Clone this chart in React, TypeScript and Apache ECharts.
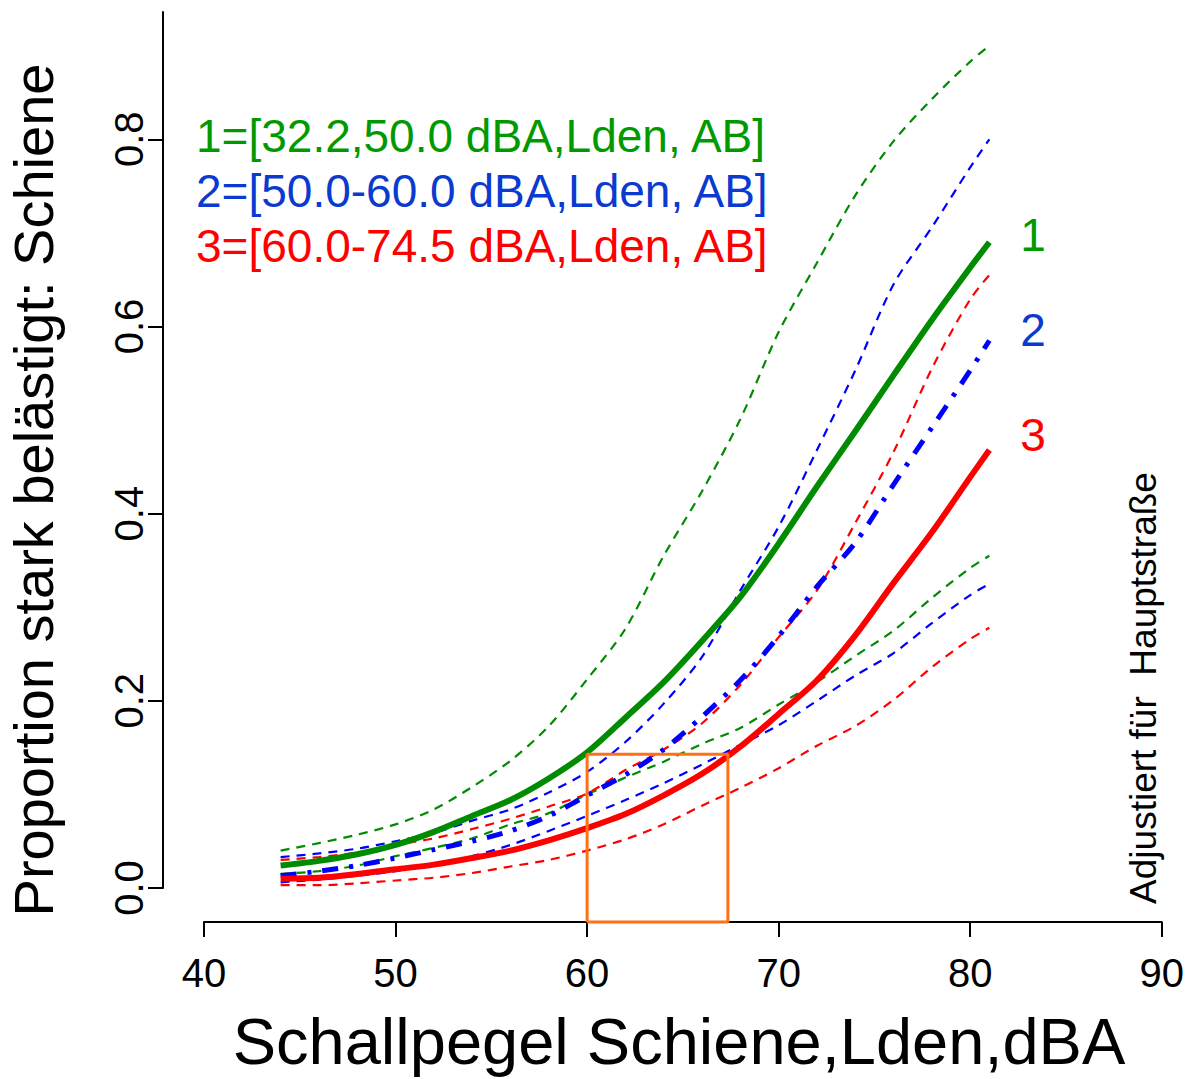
import React, { useEffect, useRef } from "react";
import * as echarts from "echarts";

const xs = [44, 46, 48, 50, 52, 54, 56, 58, 60, 62, 64, 66, 68, 70, 72, 74, 76, 78, 80, 81];

const g1 = [0.024, 0.029, 0.036, 0.046, 0.060, 0.077, 0.094, 0.117, 0.145, 0.182, 0.220, 0.264, 0.311, 0.368, 0.429, 0.488, 0.548, 0.607, 0.663, 0.690];
const g1Up = [0.040, 0.048, 0.057, 0.068, 0.084, 0.108, 0.136, 0.173, 0.223, 0.277, 0.355, 0.424, 0.501, 0.594, 0.668, 0.740, 0.798, 0.843, 0.883, 0.900];
const g1Lo = [0.015, 0.018, 0.024, 0.034, 0.043, 0.053, 0.068, 0.080, 0.100, 0.118, 0.135, 0.154, 0.171, 0.196, 0.220, 0.248, 0.275, 0.310, 0.342, 0.355];

const b2 = [0.013, 0.018, 0.024, 0.032, 0.041, 0.050, 0.061, 0.077, 0.099, 0.121, 0.148, 0.183, 0.222, 0.269, 0.322, 0.369, 0.431, 0.492, 0.553, 0.585];
const b2Up = [0.033, 0.037, 0.042, 0.050, 0.059, 0.072, 0.084, 0.102, 0.124, 0.156, 0.197, 0.247, 0.318, 0.386, 0.468, 0.553, 0.645, 0.706, 0.770, 0.800];
const b2Lo = [0.006, 0.009, 0.013, 0.018, 0.025, 0.034, 0.046, 0.061, 0.077, 0.094, 0.112, 0.132, 0.153, 0.174, 0.200, 0.227, 0.251, 0.283, 0.313, 0.325];

const r3 = [0.010, 0.011, 0.015, 0.020, 0.025, 0.032, 0.040, 0.051, 0.064, 0.079, 0.099, 0.122, 0.151, 0.186, 0.222, 0.270, 0.326, 0.380, 0.439, 0.468];
const r3Up = [0.030, 0.033, 0.038, 0.046, 0.053, 0.063, 0.074, 0.087, 0.101, 0.126, 0.148, 0.176, 0.217, 0.268, 0.318, 0.390, 0.466, 0.555, 0.629, 0.655];
const r3Lo = [0.003, 0.003, 0.005, 0.008, 0.011, 0.016, 0.023, 0.030, 0.040, 0.052, 0.068, 0.088, 0.107, 0.128, 0.152, 0.173, 0.201, 0.236, 0.266, 0.278];

const xTicks = [40, 50, 60, 70, 80, 90];
const yTicks = [0, 0.2, 0.4, 0.6, 0.8];

const rectX = [60, 67.35];
const rectTop = 0.143;
const rectBottom = -0.0363;

const legendLines = [
  "1=[32.2,50.0 dBA,Lden, AB]",
  "2=[50.0-60.0 dBA,Lden, AB]",
  "3=[60.0-74.5 dBA,Lden, AB]",
];
const curveLabels = ["1", "2", "3"];

const GREEN = "#008B00";
const BLUE = "#0000FF";
const RED = "#FF0000";
const legendColors = ["#009A00", "#0A3ACF", "#FF0000"];
const FONT = "'Liberation Sans', Arial, Helvetica, sans-serif";

const pairs = (ys: number[]) => xs.map((x, i) => [x, ys[i]]);

export default function App() {
  const ref = useRef<HTMLDivElement>(null);
  useEffect(() => {
    document.body.style.margin = "0";
    document.body.style.overflow = "hidden";
    document.documentElement.style.overflow = "hidden";
    if (!ref.current) return;
    const chart = echarts.init(ref.current, undefined, { renderer: "svg" });
    const dashed = (name: string, ys: number[], color: string) => ({
      name,
      type: "line",
      data: pairs(ys),
      showSymbol: false,
      smooth: 0.3,
      lineStyle: { color, width: 2.2, type: [9, 7] },
      z: 2,
    });
    const option: any = {
      animation: false,
      backgroundColor: "#ffffff",
      grid: { left: 204, width: 958, top: 12, height: 876 },
      xAxis: {
        type: "value",
        min: 40,
        max: 90,
        interval: 10,
        offset: 34,
        splitLine: { show: false },
        axisLine: { show: true, onZero: false, lineStyle: { color: "#000", width: 2 } },
        axisTick: { show: true, length: 15, lineStyle: { color: "#000", width: 2 }, customValues: xTicks },
        axisLabel: {
          color: "#000",
          fontSize: 40,
          fontFamily: FONT,
          margin: 31,
          customValues: xTicks,
          formatter: (v: number) => String(v),
        },
      },
      yAxis: {
        type: "value",
        min: 0,
        max: 0.936,
        interval: 0.2,
        offset: 41,
        splitLine: { show: false },
        axisLine: { show: true, onZero: false, lineStyle: { color: "#000", width: 2 } },
        axisTick: { show: true, length: 15, lineStyle: { color: "#000", width: 2 }, customValues: yTicks },
        axisLabel: {
          color: "#000",
          fontSize: 40,
          fontFamily: FONT,
          rotate: 90,
          margin: 14,
          customValues: yTicks,
          formatter: (v: number) => v.toFixed(1),
        },
      },
      series: [
        dashed("1 oben", g1Up, GREEN),
        dashed("1 unten", g1Lo, GREEN),
        dashed("2 oben", b2Up, BLUE),
        dashed("2 unten", b2Lo, BLUE),
        dashed("3 oben", r3Up, RED),
        dashed("3 unten", r3Lo, RED),
        {
          name: "1",
          type: "line",
          data: pairs(g1),
          showSymbol: false,
          smooth: 0.3,
          lineStyle: { color: GREEN, width: 6 },
          z: 3,
        },
        {
          name: "2",
          type: "line",
          data: pairs(b2),
          showSymbol: false,
          smooth: 0.3,
          lineStyle: { color: BLUE, width: 5, type: [16, 11, 4, 11] },
          z: 3,
        },
        {
          name: "3",
          type: "line",
          data: pairs(r3),
          showSymbol: false,
          smooth: 0.3,
          lineStyle: { color: RED, width: 6 },
          z: 3,
        },
        {
          name: "Bereich",
          type: "line",
          clip: false,
          showSymbol: false,
          data: [
            [rectX[0], rectBottom],
            [rectX[0], rectTop],
            [rectX[1], rectTop],
            [rectX[1], rectBottom],
            [rectX[0], rectBottom],
          ],
          lineStyle: { color: "#FF7114", width: 3 },
          z: 4,
        },
      ],
      graphic: [
        ...legendLines.map((t, i) => ({
          type: "text",
          left: 196,
          top: 137 + i * 55 - 24,
          style: { text: t, font: `46px ${FONT}`, fill: legendColors[i] },
          z: 10,
        })),
        ...curveLabels.map((t, i) => ({
          type: "text",
          x: 1033,
          y: [235, 330, 435][i],
          style: { text: t, font: `46px ${FONT}`, fill: legendColors[i], align: "center", verticalAlign: "middle" },
          z: 10,
        })),
        {
          type: "text",
          x: 33,
          y: 490,
          rotation: Math.PI / 2,
          style: {
            text: "Proportion stark belästigt: Schiene",
            font: `56px ${FONT}`,
            fill: "#000",
            align: "center",
            verticalAlign: "middle",
          },
        },
        {
          type: "text",
          x: 679,
          y: 1041,
          style: {
            text: "Schallpegel Schiene,Lden,dBA",
            font: `65px ${FONT}`,
            fill: "#000",
            align: "center",
            verticalAlign: "middle",
          },
        },
        {
          type: "text",
          x: 1143,
          y: 688,
          rotation: Math.PI / 2,
          style: {
            text: "Adjustiert für  Hauptstraße",
            font: `37px ${FONT}`,
            fill: "#000",
            align: "center",
            verticalAlign: "middle",
          },
        },
      ],
    };
    chart.setOption(option);
    return () => chart.dispose();
  }, []);
  return <div ref={ref} style={{ width: 1187, height: 1079 }} />;
}
